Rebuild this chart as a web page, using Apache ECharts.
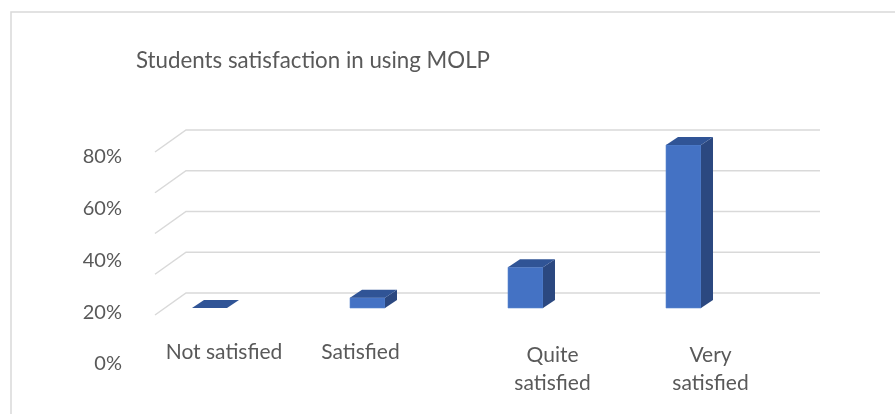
<!DOCTYPE html>
<html>
<head>
<meta charset="utf-8">
<script src="https://cdn.jsdelivr.net/npm/echarts@6/dist/echarts.min.js"></script>
<style>
  html, body { margin: 0; padding: 0; background: #fff; }
  #chart { width: 895px; height: 414px; }
</style>
</head>
<body>
<div id="chart"></div>
<script>
  // data
  const categories = ['Not satisfied', 'Satisfied', 'Quite\nsatisfied', 'Very\nsatisfied'];
  const satisfaction = [0, 5, 20, 80];
  const tickValues = [0, 20, 40, 60, 80];

  // fake 3d look (pixels)
  const depth = [12, -8];          // bar depth offset
  const backOff = [21, -15];       // bar plane -> back wall
  const frontOff = [-10, 7];       // bar plane -> front edge
  const floorLeft = 34.5, floorRight = 668.5;
  // small horizontal/vertical nudges of category labels, like the original
  const labelPad = [[0, 0, 0, 29], [0, 14, 0, 0], [3, 0, 0, 54], [3, 0, 0, 54]];

  const textColor = '#595959';
  const font = 'Lato, "Open Sans", sans-serif';

  let myChart = echarts.init(document.getElementById('chart'));
  myChart.setOption({
    backgroundColor: '#fff',
    animation: false,
    graphic: [{
      type: 'rect',
      shape: { x: 11, y: 12, width: 900, height: 420 },
      style: { fill: 'none', stroke: '#d9d9d9', lineWidth: 1.5 },
      silent: true
    }],
    title: {
      text: 'Students satisfaction in using MOLP',
      left: 131,
      top: 45,
      textStyle: { color: textColor, fontSize: 22.3, fontWeight: 'normal', fontFamily: font }
    },
    grid: [
      { left: 130.5, width: 632, top: 145, bottom: 106 },
      { left: 130, width: 10, top: 157, bottom: 50 }
    ],
    xAxis: [{
      type: 'category',
      gridIndex: 0,
      data: categories.map((c, i) => ({
        value: c,
        textStyle: { padding: labelPad[i] }
      })),
      axisLine: { show: false },
      axisTick: { show: false },
      axisLabel: {
        interval: 0,
        margin: 30,
        color: textColor,
        fontSize: 21,
        lineHeight: 28,
        fontFamily: font
      }
    }, {
      type: 'value',
      gridIndex: 1,
      show: false
    }],
    yAxis: [{
      type: 'value',
      gridIndex: 0,
      min: 0,
      max: 80,
      interval: 20,
      show: false
    }, {
      type: 'value',
      gridIndex: 1,
      min: 0,
      max: 80,
      interval: 20,
      axisLine: { show: false },
      axisTick: { show: false },
      splitLine: { show: false },
      axisLabel: {
        formatter: '{value}%',
        color: textColor,
        fontSize: 20,
        fontFamily: font,
        margin: 8
      }
    }],
    series: [
      {
        // walls: back gridlines + left diagonals
        type: 'custom',
        xAxisIndex: 0,
        yAxisIndex: 0,
        clip: false,
        silent: true,
        z: 1,
        data: tickValues.map(v => [0, v]),
        renderItem: function (params, api) {
          const cs = params.coordSys;
          const y = api.coord([0, api.value(1)])[1];
          const xl = cs.x + floorLeft, xr = cs.x + floorRight;
          const st = { stroke: '#d9d9d9', lineWidth: 1.5, fill: 'none' };
          return {
            type: 'group',
            children: [{
              type: 'polyline',
              shape: { points: [
                [xl + frontOff[0], y + frontOff[1]],
                [xl + backOff[0], y + backOff[1]],
                [xr + backOff[0], y + backOff[1]]
              ] },
              style: st
            }]
          };
        }
      },
      {
        name: 'Satisfaction',
        type: 'custom',
        xAxisIndex: 0,
        yAxisIndex: 0,
        clip: false,
        z: 3,
        data: satisfaction.map((v, i) => [i, v]),
        renderItem: function (params, api) {
          const top = api.coord([api.value(0), api.value(1)]);
          const base = api.coord([api.value(0), 0]);
          const w = 35;
          const x0 = top[0] - w / 2, x1 = top[0] + w / 2;
          const yt = top[1], yb = base[1];
          const dx = depth[0], dy = depth[1];
          const children = [];
          if (yb - yt > 0.5) {
            children.push({
              type: 'rect',
              shape: { x: x0, y: yt, width: w, height: yb - yt },
              style: { fill: '#4472c4', stroke: '#5b86d0', lineWidth: 0.6 }
            });
            children.push({
              type: 'polygon',
              shape: { points: [[x1, yt], [x1 + dx, yt + dy], [x1 + dx, yb + dy], [x1, yb]] },
              style: { fill: '#2b4880' }
            });
          }
          children.push({
            type: 'polygon',
            shape: { points: [[x0, yt], [x1, yt], [x1 + dx, yt + dy], [x0 + dx, yt + dy]] },
            style: { fill: '#305496' }
          });
          return { type: 'group', children: children };
        }
      }
    ]
  });
</script>
</body>
</html>
